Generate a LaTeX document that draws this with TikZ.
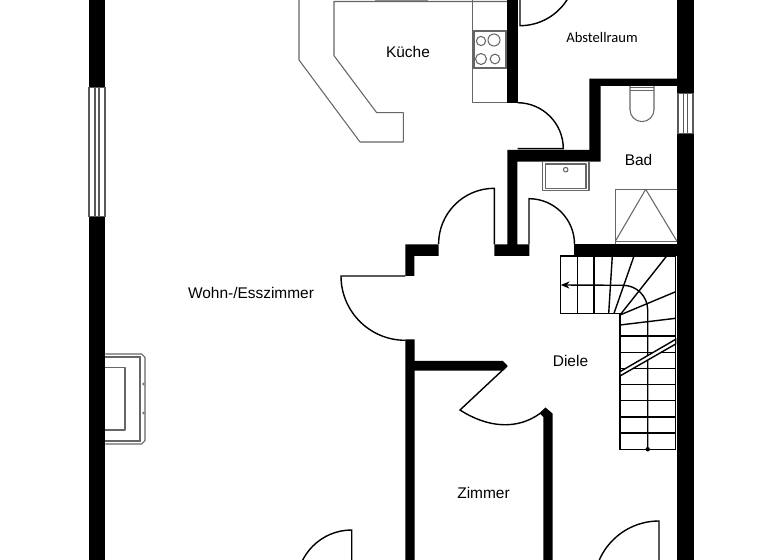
\documentclass[tikz,border=0pt]{standalone}
\usepackage{fontspec}
\setmainfont{Liberation Sans}
\newfontfamily\storefont{Carlito}
\usetikzlibrary{arrows.meta}

\begin{document}
\begin{tikzpicture}[
    x=0.02cm, y=-0.02cm,
    wall_part/.style={fill=black, draw=none},
    fixture/.style={draw=black!60, line width=0.6pt, line join=round},
    fixture_thick/.style={draw=black!60, line width=1pt},
    door_swing/.style={draw=black, line width=0.8pt},
    stair_line/.style={draw=black, line width=0.8pt},
    window_part/.style={draw=black!65, line width=0.6pt, fill=white},
    room_label/.style={inner sep=0pt, font=\fontsize{8.8}{10}\selectfont}
]
    \useasboundingbox (0,0) rectangle (768,560);
    \clip (0,0) rectangle (768,560);
    \fill[white] (0,0) rectangle (768,560);

    % Outer walls
    \fill[wall_part] (88.5,0) rectangle (105.3,560);
    \fill[wall_part] (676.8,0) rectangle (694,560);

    % Windows
    \draw[window_part] (89,87.3) rectangle (105,216.7);
    \draw[window_part] (95,87.3) -- (95,216.7);
    \draw[window_part] (99,87.3) -- (99,216.7);
    \draw[window_part] (678,93.3) rectangle (693,133.3);
    \draw[window_part] (683.3,93.3) -- (683.3,133.3);
    \draw[window_part] (687.6,93.3) -- (687.6,133.3);

    % Inner walls
    \fill[wall_part] (507.3,0) rectangle (517.7,102.7);
    \fill[wall_part] (677,78.7) -- (589.3,78.7) -- (589.3,150) -- (507.3,150) -- (507.3,244.3) -- (494.3,244.3) -- (494.3,256) -- (529.3,256) -- (529.3,244.3) -- (517.3,244.3) -- (517.3,161.7) -- (600.7,161.7) -- (600.7,86) -- (677,86) -- cycle;
    \fill[wall_part] (574.3,244.3) rectangle (677,256);
    \fill[wall_part] (438.7,244.3) -- (405.3,244.3) -- (405.3,276) -- (414.3,276) -- (414.3,256) -- (438.7,256) -- cycle;
    \fill[wall_part] (405.3,339.3) -- (405.3,560) -- (414.5,560) -- (414.5,370.7) -- (503,370.7) -- (507.7,366) -- (503,361) -- (414.5,361) -- (414.5,339.3) -- cycle;
    \fill[wall_part] (543.3,560) -- (543.3,417) -- (539.5,413) -- (545.5,407.5) -- (552.5,413.5) -- (552.5,560) -- cycle;

    % Doors
    \draw[door_swing] (520,-30) -- (520,25.7) arc[start angle=90, end angle=32, radius=55.7];
    \draw[door_swing] (517.5,148.7) -- (563.3,148.7) arc[start angle=0, end angle=-90, radius=46];
    \draw[door_swing] (494.3,244.3) -- (494.3,188.3) arc[start angle=-90, end angle=-180, radius=55.7];
    \draw[door_swing] (529,244.3) -- (529,198.7) arc[start angle=-90, end angle=0, radius=45.5];
    \draw[door_swing] (405.3,276) -- (341,276) arc[start angle=180, end angle=90, radius=64.3];
    \draw[door_swing] (507,366) -- (460,410) .. controls (488,428) and (517,430) .. (540,413.5);
    \draw[door_swing] (351.7,590) -- (351.7,530) arc[start angle=-90, end angle=-180, radius=55];
    \draw[door_swing] (659,590) -- (659,521) arc[start angle=-90, end angle=-180, radius=65.2];

    % Kitchen
    \draw[fixture] (507,1.5) -- (334,1.5) -- (334,55.7) -- (376.7,112.7) -- (403.3,112.7) -- (403.3,142) -- (360,142) -- (299,60) -- (299,-5);
    \fill[black!45] (375,0) rectangle (428,1.5);
    \draw[fixture] (472.3,0) -- (472.3,102.7) -- (507.3,102.7);
    \draw[fixture_thick] (473.7,31) rectangle (506,68.3);
    \draw[fixture] (481,41) circle[radius=4.6];
    \draw[fixture] (494,40) circle[radius=6];
    \draw[fixture] (481,59) circle[radius=5.5];
    \draw[fixture] (495,59) circle[radius=4.8];

    % Bathroom
    \draw[fixture] (630,86) -- (630,109.6) arc[start angle=180, end angle=0, radius=12] -- (654,86);
    \draw[fixture] (630,87.5) -- (654,87.5);
    \draw[fixture] (630,90.7) -- (654,90.7);
    \draw[fixture] (542.7,161.7) rectangle (589,190.7);
    \draw[fixture] (545.7,164) rectangle (586,188.3);
    \draw[fixture] (565.7,169.7) circle[radius=2.3];
    \draw[fixture] (615.3,244) -- (615.3,189.3) -- (677,189.3);
    \draw[fixture] (615.3,241.3) -- (677,241.3);
    \draw[fixture] (615.3,241.3) -- (645.7,189.3) -- (677,241.3);

    % Stairs
    \draw[stair_line] (620,313.3) -- (560.7,313.3) -- (560.7,256) -- (675.7,256) -- (675.7,449.3) -- (620,449.3) -- cycle;
    \draw[stair_line] (577.7,256) -- (577.7,313.3);
    \draw[stair_line] (594,256) -- (594,313.3);
    \draw[stair_line] (612.3,256) -- (608.7,313.3);
    \draw[stair_line] (634,256) -- (614,313.3);
    \draw[stair_line] (666.7,256) -- (620,315);
    \draw[stair_line] (675.7,291.7) -- (620,315);
    \draw[stair_line] (675.7,318.3) -- (620,325);
    \draw[stair_line] (620,336) -- (675.7,336);
    \draw[stair_line] (620,352.3) -- (675.7,352.3);
    \draw[stair_line] (620,368.3) -- (675.7,368.3);
    \draw[stair_line] (620,384.3) -- (675.7,384.3);
    \draw[stair_line] (620,400.7) -- (675.7,400.7);
    \draw[stair_line] (620,417) -- (675.7,417);
    \draw[stair_line] (620,433) -- (675.7,433);
    \draw[stair_line, -{Stealth[length=5pt,width=4pt]}] (647.7,449.3) -- (647.7,310) arc[start angle=0, end angle=-90, radius=24.7] -- (560.7,285);
    \fill[black] (647.7,449.3) circle[radius=2.2];
    \draw[stair_line, fill=white] (620,371.7) -- (675.7,339.3) -- (675.7,344) -- (620,376) -- cycle;

    % Fireplace
    \draw[fixture] (105.3,354) -- (141.7,354) -- (145,357.3) -- (145,440.7) -- (141.7,444) -- (105.3,444);
    \draw[fixture_thick] (105.3,357.3) -- (140,357.3) -- (140,440.7) -- (105.3,440.7);
    \draw[fixture] (105.3,367.3) -- (125,367.3) -- (125,430) -- (105.3,430);
    \fill[black!55] (143.5,384) circle[radius=1.4];
    \fill[black!55] (143.5,413) circle[radius=1.4];

    % Room names
    \node[room_label] (kueche) at (408,52) {Küche};
    \node[room_label, font=\storefont\fontsize{8.3}{10}\selectfont] (abstellraum) at (602,37) {Abstellraum};
    \node[room_label] (bad) at (638.5,160) {Bad};
    \node[room_label] (wohnzimmer) at (251,293) {Wohn-/Esszimmer};
    \node[room_label] (diele) at (570.5,361) {Diele};
    \node[room_label] (zimmer) at (483.5,492.5) {Zimmer};

\end{tikzpicture}
\end{document}
